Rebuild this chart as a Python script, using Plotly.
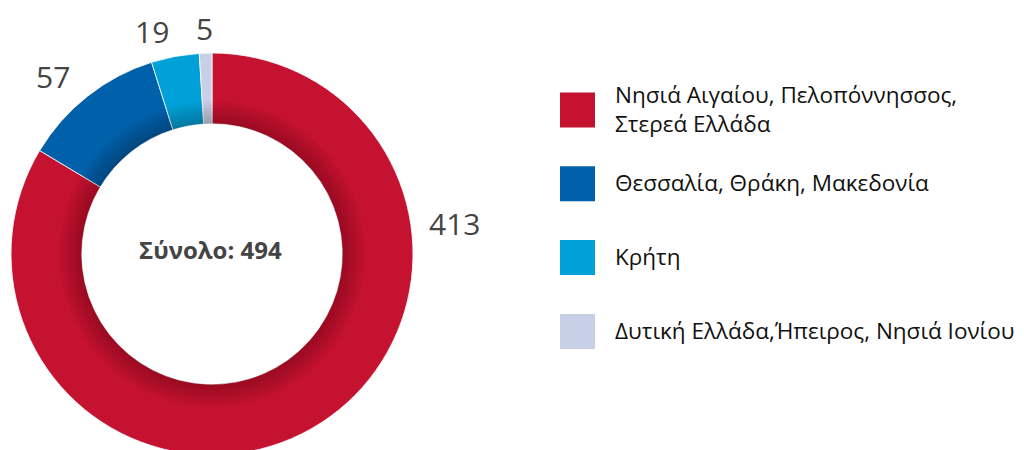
import math
import plotly.graph_objects as go

# ---- data ----
categories = [
    "Νησιά Αιγαίου, Πελοπόννησσος,<br>Στερεά Ελλάδα",
    "Θεσσαλία, Θράκη, Μακεδονία",
    "Κρήτη",
    "Δυτική Ελλάδα,Ήπειρος, Νησιά Ιονίου",
]
values = [413, 57, 19, 5]
colors = ["#C41230", "#0060AA", "#00A1D8", "#C8D0E8"]
total_label = "Σύνολο"

# ---- layout constants (page has an 8px body margin) ----
W, H = 1024, 450
OFF = 8
CX, CY = 212 - OFF, 254 - OFF      # pie centre, px in figure
R_OUT = 201
HOLE = 0.648
R_IN = R_OUT * HOLE
LABEL_R = 226
# big slice label moved up (its natural place falls off the canvas): (angle, radius)
LABEL_OVERRIDE = {0: (82, 217)}
FONT = "Open Sans, Noto Sans, DejaVu Sans, sans-serif"


def px_x(x):
    return x / W


def px_y(y):
    return 1 - y / H


def domain_for(r):
    return dict(x=[px_x(CX - r), px_x(CX + r)], y=[max(0.0, px_y(CY + r)), px_y(CY - r)])


fig = go.Figure()
fig.add_trace(go.Pie(
    labels=[c.replace("<br>", " ") for c in categories],
    values=values,
    marker=dict(colors=colors, line=dict(color="white", width=0.8)),
    hole=HOLE,
    sort=False,
    direction="clockwise",
    rotation=0,
    textinfo="none",
    hoverinfo="label+value",
    showlegend=False,
    domain=domain_for(R_OUT),
))

# subtle inner shading (stacked translucent rings)
N_RING = 7
STEP = 3.2
for k in range(N_RING):
    r = R_IN + (k + 1) * STEP
    fig.add_trace(go.Pie(
        values=[1],
        labels=["shade"],
        marker=dict(colors=["rgba(40,0,10,0.035)"], line=dict(width=0)),
        hole=R_IN / r,
        textinfo="none",
        hoverinfo="skip",
        showlegend=False,
        sort=False,
        domain=domain_for(r),
    ))

annotations = []
# value labels around the ring
tot = sum(values)
cum = 0
for i, v in enumerate(values):
    mid = (cum + v / 2) / tot * 360
    cum += v
    ang, rr = LABEL_OVERRIDE.get(i, (mid, LABEL_R))
    a = math.radians(ang)
    s = math.sin(a)
    lx = CX + rr * s
    ly = CY - rr * math.cos(a)
    if abs(s) < 0.05:
        anchor = "center"
    else:
        anchor = "left" if s > 0 else "right"
    annotations.append(dict(
        x=px_x(lx), y=px_y(ly), xref="paper", yref="paper",
        text=str(v), showarrow=False,
        xanchor=anchor, yanchor="middle",
        font=dict(family=FONT, size=30, color="#444444"),
    ))

# centre total
annotations.append(dict(
    x=px_x(CX - 2), y=px_y(CY - 5), xref="paper", yref="paper",
    text=f"<b>{total_label}: {tot}</b>", showarrow=False,
    xanchor="center", yanchor="middle",
    font=dict(family=FONT, size=24, color="#444444"),
))

# custom legend
LEG_X0, LEG_SIZE, LEG_Y0, LEG_DY, LEG_TX = 560 - OFF, 35, 110 - OFF, 73.8, 613 - OFF
shapes = []
for i, (c, col) in enumerate(zip(categories, colors)):
    yc = LEG_Y0 + i * LEG_DY
    shapes.append(dict(
        type="rect", xref="paper", yref="paper",
        x0=px_x(LEG_X0), x1=px_x(LEG_X0 + LEG_SIZE),
        y0=px_y(yc + LEG_SIZE / 2), y1=px_y(yc - LEG_SIZE / 2),
        fillcolor=col, line=dict(width=0),
    ))
    annotations.append(dict(
        x=px_x(LEG_TX), y=px_y(yc - 1), xref="paper", yref="paper",
        text=c, showarrow=False, align="left",
        xanchor="left", yanchor="middle",
        font=dict(family=FONT, size=22.5, color="#111111"),
    ))

fig.update_layout(
    width=W, height=H,
    margin=dict(l=0, r=0, t=0, b=0),
    paper_bgcolor="white", plot_bgcolor="white",
    annotations=annotations, shapes=shapes,
    showlegend=False,
)

fig.write_html("out.html")
